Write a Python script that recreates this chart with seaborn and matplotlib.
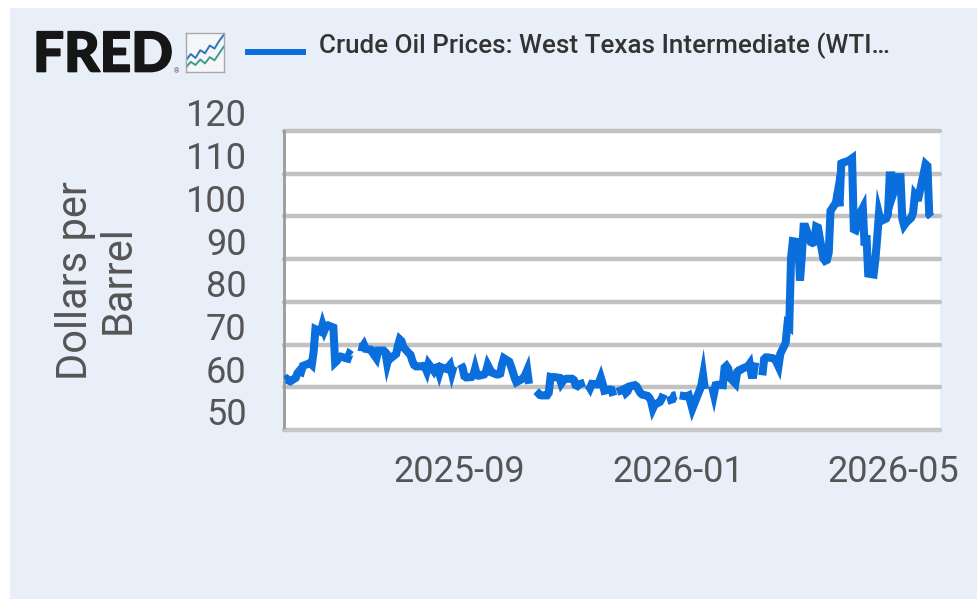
import matplotlib.dates as mdates
import matplotlib.patheffects as pe
import matplotlib.pyplot as plt
import pandas as pd
import seaborn as sns
from matplotlib.patches import Rectangle
from matplotlib.transforms import ScaledTranslation

# start date of each unbroken run of daily prices (holidays leave gaps)
seg_starts = [
    "2025-05-27", "2025-07-07", "2025-09-02", "2025-10-14", "2025-11-12",
    "2025-11-28", "2025-12-26", "2026-01-02", "2026-01-20", "2026-02-17",
]
seg_values = [
    [61.8, 62.0, 61.6, 61.4, 62.2, 63.3, 63.8, 63.6, 65.0, 65.5, 65.7, 65.3, 68.3, 73.6,
     73.0, 74.6, 73.3, 74.3, 74.5, 74.0, 65.8, 66.2, 67.0, 67.2, 66.8, 66.7, 67.8, 67.5],
    [69.5, 69.4, 69.4, 70.0, 69.0, 68.8, 68.0, 67.4, 66.8, 68.6, 68.6, 68.2, 65.6, 67.2,
     66.8, 67.8, 69.8, 71.2, 70.8, 69.4, 68.0, 67.6, 66.2, 65.2, 64.9, 64.9, 65.0, 64.8,
     63.8, 65.5, 63.8, 64.6, 64.7, 63.3, 64.7, 64.3, 64.7, 65.2, 63.4, 64.9],
    [65.4, 64.6, 62.6, 62.3, 62.4, 62.8, 64.4, 62.8, 62.7, 63.0, 63.6, 65.2, 64.4, 63.5,
     63.0, 63.0, 63.2, 65.4, 66.8, 66.0, 64.9, 63.6, 62.2, 61.2, 61.9, 62.3, 63.0, 64.0,
     60.8],
    [59.1, 58.7, 58.2, 58.1, 58.1, 58.7, 62.4, 62.3, 62.4, 62.2, 60.9, 61.5, 61.9, 62.0,
     62.0, 61.7, 60.5, 60.3, 60.7, 61.1],
    [60.5, 59.8, 60.8, 60.7, 61.2, 62.3, 60.9, 59.2, 59.5, 59.4, 58.0],
    [58.9, 59.4, 59.6, 58.7, 59.1, 60.2, 60.5, 60.2, 59.4, 58.7, 58.3, 58.0, 57.6, 56.8,
     55.0, 55.9, 56.6, 57.4, 58.4],
    [56.8, 57.2, 58.1, 58.2],
    [58.1, 57.9, 57.9, 58.1, 56.6, 55.0, 58.2, 59.2, 60.4, 62.8, 59.6],
    [60.2, 58.4, 60.5, 60.6, 60.5, 64.6, 65.0, 64.4, 62.2, 60.9, 63.6, 64.0, 64.1, 64.4,
     64.9, 65.5, 62.9, 62.9, 65.8],
    [62.8, 66.6, 67.0, 67.0, 66.8, 66.6, 65.8, 64.9, 67.8, 70.4, 74.7, 74.3, 90.2, 94.2,
     94.0, 85.0, 90.7, 97.6, 97.6, 94.0, 93.8, 94.0, 97.6, 97.4, 90.2, 89.6, 89.8, 91.5,
     101.3, 103.2, 105.6, 102.4, 112.4, 112.6, 113.0, 113.3, 113.6, 97.0, 96.8, 101.2,
     102.0, 93.2, 95.6, 86.6, 86.4, 89.9, 95.0, 100.6, 98.9, 99.5, 100.5, 109.6, 109.6,
     105.4, 109.2, 109.2, 99.5, 97.9, 98.5, 99.7, 100.9, 105.0, 104.4, 104.4, 110.2,
     112.2, 111.8, 100.4, 99.9],
]

y_ticks = [50, 60, 70, 80, 90, 100, 110, 120]
x_ticks = ["2025-09-01", "2026-01-01", "2026-05-01"]
x_limits = ["2025-05-26 12:00", "2026-05-27"]
y_label = "Dollars per\nBarrel"
series_name = "Crude Oil Prices: West Texas Intermediate (WTI\u2026"

# little chart on the FRED logo badge
icon_steps = [0, 1, 2, 3, 4, 5, 6, 7, 8]
icon_blue = [3.0, 4.6, 3.6, 5.6, 4.8, 6.8, 6.0, 8.0, 9.6]
icon_green = [1.2, 2.6, 1.8, 3.2, 2.2, 3.8, 3.0, 4.8, 6.6]

W, H = 978, 599
BLUE = "#0A6EDC"
PANEL = "#E9EFF9"
GRID = "#C2C2C2"
TEXT = "#555555"


def box(left, top, right, bottom):
    # pixel box of the reference -> figure fractions
    return [left / W, 1 - bottom / H, (right - left) / W, (bottom - top) / H]


def main():
    sns.set_theme(style="white")
    plt.rcParams["font.family"] = ["Roboto", "DejaVu Sans"]

    frames = []
    for i, (start, values) in enumerate(zip(seg_starts, seg_values)):
        frames.append(
            pd.DataFrame(
                {
                    "date": pd.bdate_range(start, periods=len(values)),
                    "price": values,
                    "segment": i,
                }
            )
        )
    df = pd.concat(frames, ignore_index=True)

    fig = plt.figure(figsize=(W / 100, H / 100), dpi=100, facecolor="white")
    x0, y0, w0, h0 = box(10, 8, W, H)
    fig.add_artist(
        Rectangle(
            (x0, y0), w0, h0, transform=fig.transFigure, color=PANEL, lw=0, zorder=-5
        )
    )

    ax = fig.add_axes(box(284, 131, 940, 430))
    ax.set_facecolor("white")
    sns.lineplot(
        data=df,
        x="date",
        y="price",
        units="segment",
        estimator=None,
        color=BLUE,
        linewidth=5.8,
        sort=False,
        ax=ax,
        zorder=3,
    )
    for line in ax.lines:
        line.set_solid_joinstyle("miter")
        line.set_solid_capstyle("butt")

    ax.set_xlim(pd.Timestamp(x_limits[0]), pd.Timestamp(x_limits[1]))
    ax.set_ylim(50, 120)
    ax.set_yticks(y_ticks)
    ax.set_xticks(pd.to_datetime(x_ticks))
    ax.xaxis.set_major_formatter(mdates.DateFormatter("%Y-%m"))
    ax.grid(axis="y", color=GRID, linewidth=3.2, zorder=1)
    ax.set_axisbelow(True)
    for gridline in ax.get_ygridlines():
        gridline.set_clip_on(False)

    ax.set_xlabel("")
    ax.set_ylabel("")
    ax.tick_params(axis="y", length=0, pad=27, labelsize=26, labelcolor=TEXT)
    ax.tick_params(
        axis="x", length=8, width=2, color="#D5DAE2", pad=9, labelsize=26,
        labelcolor=TEXT,
    )
    # y labels sit just above their grid lines
    nudge = ScaledTranslation(0, -2.5 / 72, fig.dpi_scale_trans)
    for label in ax.get_yticklabels():
        label.set_va("bottom")
        label.set_transform(label.get_transform() + nudge)

    for side in ["top", "right"]:
        ax.spines[side].set_visible(False)
    ax.spines["left"].set_color("#9A9A9A")
    ax.spines["left"].set_linewidth(2)
    ax.spines["bottom"].set_color("#C8C8C8")
    ax.spines["bottom"].set_linewidth(2)

    fig.text(
        97 / W, 1 - 280 / H, y_label, rotation=90, ha="center", va="center",
        fontsize=30, color=TEXT, linespacing=1.05, multialignment="center",
    )

    # header: logo, badge, legend key and series name
    fig.text(
        33 / W, 1 - 71.5 / H, "FRED", fontsize=39.5, fontweight="black",
        family="Lato", color="#161616", ha="left", va="baseline",
        path_effects=[pe.withStroke(linewidth=1.2, foreground="#161616")],
    )
    fig.text(174 / W, 1 - 73 / H, "\u00ae", fontsize=5, color="#555555")

    icon = fig.add_axes(box(186, 33, 224, 72))
    icon.set_facecolor("#F4F6F8")
    icon_df = pd.DataFrame(
        {"step": icon_steps, "blue": icon_blue, "green": icon_green}
    )
    sns.lineplot(
        data=icon_df, x="step", y="blue", color="#2F76B8", linewidth=1.4, ax=icon
    )
    sns.lineplot(
        data=icon_df, x="step", y="green", color="#3F9C8C", linewidth=1.4, ax=icon
    )
    icon.set_xlim(0, 8)
    icon.set_ylim(0, 10)
    icon.set_xticks([])
    icon.set_yticks([])
    icon.set_xlabel("")
    icon.set_ylabel("")
    for spine in icon.spines.values():
        spine.set_color("#A8A8A8")
        spine.set_linewidth(1)

    fig.add_artist(
        Rectangle(
            (245 / W, 1 - 55 / H), 61 / W, 6 / H, transform=fig.transFigure,
            color=BLUE, lw=0,
        )
    )
    fig.text(
        319 / W, 1 - 46 / H, series_name, fontsize=18.7, fontweight="medium",
        color="#333333", ha="left", va="center",
    )

    fig.savefig("out.png", dpi=100)


if __name__ == "__main__":
    main()
